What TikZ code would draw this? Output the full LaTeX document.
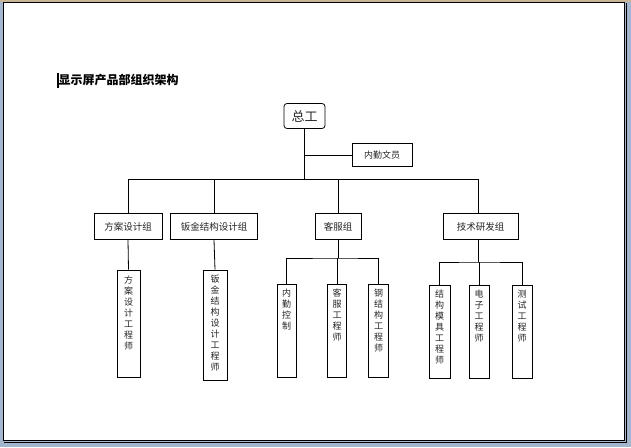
\documentclass[tikz,border=0pt]{standalone}
\usepackage{fontspec}
\newfontfamily\cjk{Noto Sans CJK SC}
\definecolor{frameblue}{HTML}{A4B6CE}
\definecolor{frametan}{HTML}{C8B496}
\begin{document}
\begin{tikzpicture}[x=1pt,y=-1pt,
  conn/.style={line width=0.8pt},
  box/.style={draw, line width=0.8pt, inner sep=0pt, text=black!85,
              font=\cjk\fontsize{9.5}{11}\selectfont},
  grp/.style={box, minimum height=26pt},
  vbox/.style={draw, line width=0.8pt, inner sep=0pt},
  vtxt/.style={anchor=north, align=center, inner sep=0pt, text=black!85,
               font=\cjk\fontsize{9}{11}\selectfont}]
\useasboundingbox (0,0) rectangle (631,447);
% window frame
\fill[frameblue] (0,0) rectangle (631,447);
\fill[frametan] (0,0) rectangle (631,2);
\fill[white] (3,2) rectangle (625,441);
\draw[line width=0.8pt] (3.4,2.4) rectangle (624.6,440.6);
\draw[line width=1.2pt] (4,442.2) -- (626.2,442.2) -- (626.2,3);
% title
\fill (56.8,73) rectangle (58.6,88);
\node[anchor=west, inner sep=0pt, font=\cjk\bfseries\fontsize{12}{14}\selectfont] (title) at (58.5,80) {显示屏产品部组织架构};
% top
\node[box, rounded corners=3pt, minimum width=41pt, minimum height=25pt,
      font=\cjk\fontsize{13}{15}\selectfont] (zg) at (304.5,116) {总工};
\node[box, minimum width=60pt, minimum height=23pt, font=\cjk\fontsize{9}{11}\selectfont] (nq) at (382,155) {内勤文员};
% groups
\node[grp, minimum width=68pt] (g1) at (128,226.5) {方案设计组};
\node[grp, minimum width=87pt] (g2) at (214,226.5) {钣金结构设计组};
\node[grp, minimum width=46pt] (g3) at (338,226.5) {客服组};
\node[grp, minimum width=75pt] (g4) at (480.5,226.5) {技术研发组};
% vertical boxes
\node[vbox, minimum width=23pt, minimum height=107pt] (s1) at (128.5,323.5) {};
\node[vbox, minimum width=24pt, minimum height=110pt] (s2) at (215,325) {};
\node[vbox, minimum width=19pt, minimum height=93pt] (s3) at (286.5,330.5) {};
\node[vbox, minimum width=19pt, minimum height=93pt] (s4) at (337,330.5) {};
\node[vbox, minimum width=20pt, minimum height=93pt] (s5) at (378.5,330.5) {};
\node[vbox, minimum width=21pt, minimum height=93pt] (s6) at (439.5,331.5) {};
\node[vbox, minimum width=20pt, minimum height=93pt] (s7) at (479,331.5) {};
\node[vbox, minimum width=20pt, minimum height=93pt] (s8) at (522,331.5) {};
\node[vtxt] (t1) at ([yshift=-6pt]s1.north) {方\\案\\设\\计\\工\\程\\师};
\node[vtxt] (t2) at ([yshift=-5pt]s2.north) {钣\\金\\结\\构\\设\\计\\工\\程\\师};
\node[vtxt] (t3) at ([yshift=-5pt]s3.north) {内\\勤\\控\\制};
\node[vtxt] (t4) at ([yshift=-5pt]s4.north) {客\\服\\工\\程\\师};
\node[vtxt] (t5) at ([yshift=-5pt]s5.north) {钢\\结\\构\\工\\程\\师};
\node[vtxt] (t6) at ([yshift=-5pt]s6.north) {结\\构\\模\\具\\工\\程\\师};
\node[vtxt] (t7) at ([yshift=-5pt]s7.north) {电\\子\\工\\程\\师};
\node[vtxt] (t8) at ([yshift=-5pt]s8.north) {测\\试\\工\\程\\师};
% connectors
\coordinate (b) at (304.5,179.5);
\coordinate (x4) at (478,0);
\coordinate (k) at (338,258);
\coordinate (t) at (478,262);
\draw[conn] (zg) -- (b);
\draw[conn] (zg.south |- nq.west) -- (nq.west);
\draw[conn] (g1.north) |- (b) -| (g4.north -| x4);
\draw[conn] (g2.north) -- (g2.north |- b);
\draw[conn] (g3.north) -- (g3.north |- b);
\draw[conn] (g1.south) -- (s1.north);
\draw[conn] (g2.south) -- (s2.north);
\draw[conn] (g3.south) -- (k);
\draw[conn] (s3.north) |- (k) -| (s5.north);
\draw[conn] (s4.north) -- (s4.north |- k);
\draw[conn] (g4.south -| t) -- (t);
\draw[conn] (s6.north) |- (t) -| (s8.north);
\draw[conn] (s7.north) -- (s7.north |- t);
\end{tikzpicture}
\end{document}
